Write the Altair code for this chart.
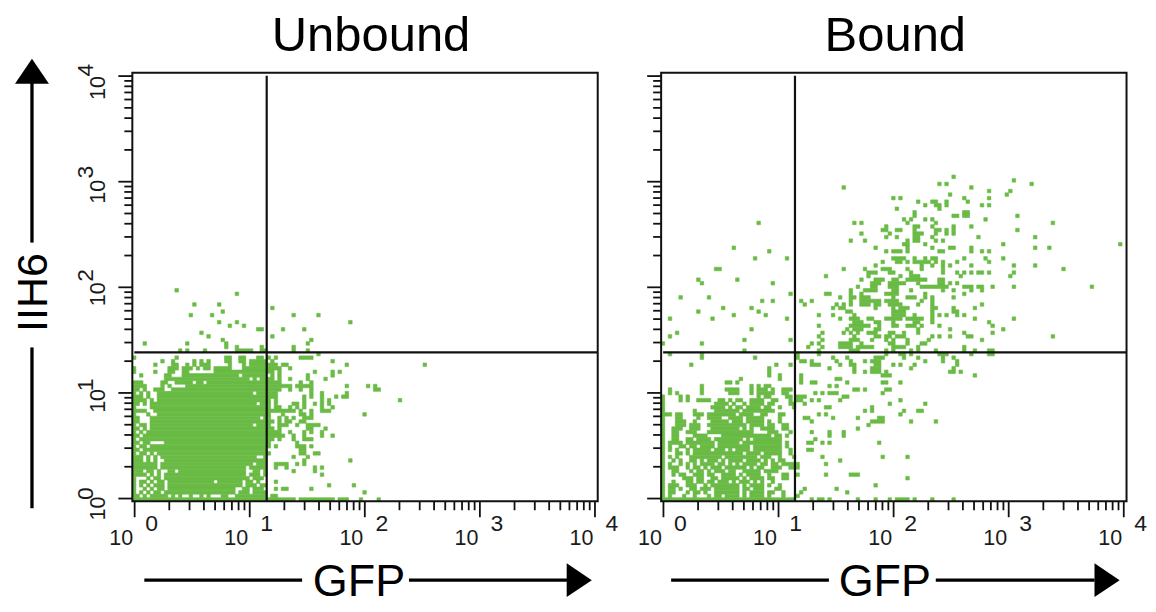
import math
import altair as alt
import pandas as pd

FONT = "Liberation Sans"
GREEN = "#69bb45"
CELL_PX = 3.55
PLOT_W = 466
PLOT_H = 429

# Occupied channels per histogram row (row index = list position).
unbound_rows_low = [
    "0-45 47-56 58-60 64 69", "0-1 3 5-9 11 13 16 19 21 25-26 29-37 39-40", "0 2 4 6-7 9-28 30-32 34-37 65",
    "0 3 5 7-8 10-28 31-32 34-36 40 42-43 50", "0 2 4 6-8 10-30 32-34 36-37 55 62", "0 2-3 5 7-8 10-22 24-30 32-33 35 40",
    "0 4 6-7 9-30 31-32 34-36", "0-3 5 7 9-31 33-35 37 53", "0-2 4-5 7 10-11 13-31 34-35 37 45 51",
    "0-6 8-31 33-37 40 43 51 53", "0-6 8-33 35-37 40-43 46 48", "0-2 4 6 9-37 48 61",
    "0-2 4 6 8-34 37 45 49", "0 2-3 5 7-37 38 47-48 51-52", "0-1 3-37 47-48",
    "0 2-3 5-38 40 46-48 50", "0-1 3-4 9-38 46", "0 2-3 4-39 41 45 48-50",
    "0-1 3-42 45 48 53 56", "0 2 4-41 44 48 50 53", "0-1 3 5-39 41 49-50 54",
]
unbound_rows_mid = [
    "0 2-3 5-33 35-38 41-43 46 49-52", "0-1 5-39 41 43-44 47-48", "0-1 5-35 37-38 41 43 45 48-50",
    "0 4 7-38 42 47-48 50 65", "0-3 6-45 47 50 53-55", "0 5-38 40-41 44 46 48 53 56",
    "0-1 3 5-34 36-38 40 45-46 48 51 53 55", "0-3 5 7-38 40 48 53 55 75", "0-2 4 7-40 48 50 53 57 59-60",
    "0 2 4 7-33 35-40 50 53 60", "0-1 3 6-8 11-41 44 47 50 68-69", "0-3 8 10 15-44 46-50 60 66 68",
    "0-2 8-9 12-16 18-19 21-41 47 50", "9-32 34 36-39 41 44 49 54", "2 9-10 14-29 31-37 39 41 49 56",
    "0 6 10-11 14-15 23-39 41 51 56 58", "0 10-12 14-16 18 20-21 23-27 31-41 44", "6 11-12 15 17 19-21 27 31 33-40 42-43 60 82",
    "8 11 17 19 21 26-27 30-31 33-37 39 56", "0 12 26-27 30-31 35-36 38 40 47-50", "52",
]
unbound_rows_high = [
    "13 15 20 29-33 36-37 45 49", "26 29 36 45", "3 15 26 49", "25 50", "21 39", "19", "35-36 42 48", "27 31",
    "24 29 61", "", "16 22 45 52", "25", "39", "17 24", "", "", "29", "12",
]
bound_rows_low = [
    "0-37 42 44-45 47 55 60 64 66-69 71 76 82", "0 2 6 9 13 15-16 18-21 23 25-28 30 34 38",
    "0 2-3 7 9-10 12 15-21 23 25-28 30-31 34 39 52", "0 2-3 5 8-9 11-13 15-21 23-24 26-28 32-33 40 49",
    "0 2-4 7-9 12 14-21 23 25-28 30 33 60", "0 3 7-8 10-11 13-14 16-18 20 22-24 26 28 31",
    "0 6-8 10-11 14-15 17-21 23 25-28 30-31 34-35 69", "0 3 5-6 9-11 13-14 17-20 22 24-27 30 34-35 38 46 53-55",
    "0 3-4 8 10-11 13 15-17 19-20 23-27 29-32", "0 2-4 7 9-10 12 14-16 18-23 25 27-28 31-33 36-38",
    "0 2 5 7 9 11-14 16-17 19 21 23-26 28-29 31-32 34-38 46", "0 3 5 8-9 11 13-15 17 19-22 24-27 29 31 33-34 50",
    "0 2 4 8-16 18-26 28-30 33 37 45 62 69", "0 4-5 7 9-22 24-27 29-33 36", "0 2 4 7 9-13 15-17 19 21-24 26-33 36 41-42",
    "0 2 5-6 8-9 11-14 16-24 26-33 35", "0 2-5 7-14 16-21 23-33 35 41-42 45 47 61", "0 3-4 7-8 10-13 15-22 24 26-33 43",
    "0 3-4 9-12 17-30 32-33 35 47 51", "0 3-4 7-9 13-25 30-32 36 42 47 51", "0 3-5 8-10 14-21 23 25 28-31 34-35 55",
]
bound_rows_mid = [
    "0 4-6 8-10 13-23 25-28 30-31 34-35 58", "0 4-6 9 14-18 20-22 24-28 30 33 42 59-62 70 77",
    "0 4-5 10 13-16 19-22 24-28 33 40-41 48 55 61-62", "0-2 4-5 9-11 13-20 22-25 28-29 33-34 44 46 67",
    "0 9 15-21 23-31 57 59 68 72-73", "0 14-17 19 21-22 24-27 29-30 33 37 46-47 59",
    "0 15-18 20 23 25-28 30-31 36-37 40 64 74", "0 5 7 10-13 16-17 19 21-22 25-28 31-32 36 38-39 42 44 50 67",
    "0 5 7 27 29-30 35-36 38-40 51-52", "2 4 11 19-21 25 27-31 34-35 43 45 47-49 62",
    "2 11 18-21 25 27-29 31 34-36 54-55 57 63-64", "11 25 27 29-30 47 49", "18-19 21 39 42-43 52 62-63 67",
    "22 33 39 49-50", "30 33 39 62-64 88", "30 54 57 59-61 63 81-82 84", "30 47 54 59-61 70 82",
    "8 32 36 42-44 50 53-54 60-61 65 67 71 83", "39-40 42 49 53 57 59-61 74 79 83",
    "11 26 38 48 52 60-62 68 72 79 82", "2 11 38 44 63 67-68 70 78-80 87 92-93",
]
bound_rows_high = [
    "23 44 53-55 63 65 70 72 77 85 88 92-93", "41 45 50-53 55-59 65-68 72 85", "0 11 42 44 50-53 56 64-65 69 73-74",
    "23 36 45 53-55 59 63 65 69 75 90", "2 44 54 60-61 63-64 66-68 76 78 81 86-87 110", "4 45 51 53 55 58-60 64-65 68 72 85 93",
    "25 52 54-56 60-61 72 81 96", "44 53-58 61 65-66 69-71 73 78 93", "54-56 60-61 65 71-72 76 92",
    "2 14 35 50 53-55 58-59 63-67 69-73 76 88 99", "20 29 44 48 54 65-68 71 76 78 80 83 85", "10 27 52-53 65-68 76 82-83",
    "17 25 48 50-51 60 65 67-69 76-77 82 88", "40 49 51 53 56-58 60-61 64-67 72 76 90", "28 31 39 42 53 56-61 63-66 73 76",
    "5 13 50 53-54 56-58 65 69-71 74 76 82", "36 46-47 53 56 63-66 74 85", "53 57-60 65-66 70 79 82 87 90",
    "55 59-60 64-66 73-80 85-87 89-90 93 99 121", "11 31 59-61 64-68 72 78-79 81 83", "10 21 56 60-62 65-66 69-74 78-79",
    "46 58 67 70-72 84 98", "58-60 64-65 70 79 83 85 87 89-90 92 99", "15-16 51 57 62-64 69 73 79 113",
    "60 73 76 79 81 87 99 105", "62 66-67 69 71-75 77 79 83 92", "26 35 65-68 71 74 76-77 85 91 96", "",
    "30 63 65-67 69 78-79 87 90 92", "20 60 69 76 81-82 87 105 109", "68-69 74 96 129", "53 57 69 71-72 77 79",
    "63 66 71-72 76 89 105", "56 64 71-73 77 80 82", "62-63 66-67 71 77-78 80 82 100", "63 71-72 76 82 87",
    "27 54 56 69 77 110", "68 70 74 76 91", "71 82-83 85-86 100", "71 85-86", "66 78", "74 77-78 80 90 92",
    "72 76-77 80 86", "65 67 85 92", "81 97", "92 98", "51 87", "78 80 104", "99", "82",
]

decades = [0, 1, 2, 3, 4]
minor_factors = [2, 3, 4, 5, 6, 7, 8, 9]
x_channels_per_decade = 32.46
y_channels_per_decade = 29.79
x_channel_zero = 0.65
y_channel_zero = 0.76
y_ten_shift = [10, 8, 7, 10, 12]
y_digit_shift = [-5, -8, -12, -9.5, -6]


def runs_frame(rows):
    out = []
    for row, text in enumerate(rows):
        for part in text.split():
            a, _, b = part.partition("-")
            start, end = int(a), int(b or a)
            out.append(dict(c0=start, c1=end + 1, r0=row, r1=row + 1))
    return pd.DataFrame(out)


def panel(rows, title, title_x, gfp_x, seg, tri_x, gate_x, y_labels):
    xs = alt.Scale(domain=[0, PLOT_W / CELL_PX], nice=False, zero=False)
    ys = alt.Scale(domain=[0, PLOT_H / CELL_PX], nice=False, zero=False)
    xch = lambda d: x_channel_zero + x_channels_per_decade * d
    ych = lambda d: y_channel_zero + y_channels_per_decade * d
    X = lambda f: alt.X(f, scale=xs, axis=None)
    Y = lambda f: alt.Y(f, scale=ys, axis=None)

    cells = alt.Chart(runs_frame(rows)).mark_rect(color=GREEN, stroke=GREEN, strokeWidth=0.6).encode(
        x=X("c0:Q"), x2="c1:Q", y=Y("r0:Q"), y2="r1:Q")

    minor = [d + math.log10(f) for d in decades[:-1] for f in minor_factors]
    xt = pd.DataFrame({"v": [xch(d) for d in decades]})
    xm = pd.DataFrame({"v": [xch(d) for d in minor]})
    yt = pd.DataFrame({"v": [ych(d) for d in decades]})
    ym = pd.DataFrame({"v": [ych(d) for d in minor]})
    h = PLOT_H
    tick = dict(color="#111111", strokeWidth=1.8)
    layers = [
        cells,
        alt.Chart(xt).mark_rule(**tick).encode(x=X("v:Q"), y=alt.value(h), y2=alt.value(h + 16)),
        alt.Chart(xm).mark_rule(**tick).encode(x=X("v:Q"), y=alt.value(h), y2=alt.value(h + 9)),
        alt.Chart(yt).mark_rule(**tick).encode(y=Y("v:Q"), x=alt.value(-14), x2=alt.value(0)),
        alt.Chart(ym).mark_rule(**tick).encode(y=Y("v:Q"), x=alt.value(-8), x2=alt.value(0)),
        # gates
        alt.Chart(pd.DataFrame({"v": [41.97]})).mark_rule(color="#111111", strokeWidth=2.2).encode(
            y=Y("v:Q"), x=alt.value(2), x2=alt.value(PLOT_W)),
        alt.Chart(pd.DataFrame({"v": [gate_x]})).mark_rule(color="#111111", strokeWidth=2.2).encode(
            x=X("v:Q"), y=alt.value(3), y2=alt.value(h)),
        # frame
        alt.Chart(pd.DataFrame({"a": [0]})).mark_rect(fillOpacity=0, stroke="#111111", strokeWidth=2).encode(
            x=alt.value(0), x2=alt.value(PLOT_W), y=alt.value(0), y2=alt.value(h)),
    ]
    # tick labels
    tens = pd.DataFrame({"v": [xch(d) - 13.5 / CELL_PX for d in decades], "t": ["10"] * 5})
    digits = pd.DataFrame({"v": [xch(d) + 17 / CELL_PX for d in decades], "t": [str(d) for d in decades]})
    lab = dict(font=FONT, color="#1a1a1a", align="center", baseline="middle")
    layers += [
        alt.Chart(tens).mark_text(fontSize=21.5, **lab).encode(x=X("v:Q"), y=alt.value(467), text="t:N"),
        alt.Chart(digits).mark_text(fontSize=23, **lab).encode(x=X("v:Q"), y=alt.value(452), text="t:N"),
    ]
    if y_labels:
        ytens = pd.DataFrame({"v": [ych(d) - s / CELL_PX for d, s in zip(decades, y_ten_shift)], "t": ["10"] * 5})
        ydig = pd.DataFrame({"v": [ych(d) - s / CELL_PX for d, s in zip(decades, y_digit_shift)],
                             "t": [str(d) for d in decades]})
        layers += [
            alt.Chart(ytens).mark_text(angle=270, fontSize=21.5, **lab).encode(y=Y("v:Q"), x=alt.value(-33), text="t:N"),
            alt.Chart(ydig).mark_text(angle=270, fontSize=23, **lab).encode(y=Y("v:Q"), x=alt.value(-46), text="t:N"),
            alt.Chart(pd.DataFrame({"a": [0]})).mark_text(
                text="IIH6", font=FONT, fontSize=43, color="black", angle=270, align="center", baseline="middle"
            ).encode(x=alt.value(-98), y=alt.value(220)),
            alt.Chart(pd.DataFrame({"a": [0]})).mark_rule(color="black", strokeWidth=3.3).encode(
                x=alt.value(-100.5), y=alt.value(275), y2=alt.value(436)),
            alt.Chart(pd.DataFrame({"a": [0]})).mark_rule(color="black", strokeWidth=3.3).encode(
                x=alt.value(-100.5), y=alt.value(8), y2=alt.value(170)),
            alt.Chart(pd.DataFrame({"a": [0]})).mark_point(
                shape="M-1,0.74L0,-0.74L1,0.74Z", size=1156, filled=True, color="black", opacity=1
            ).encode(x=alt.value(-100.5), y=alt.value(-1.5)),
        ]
    layers += [
        alt.Chart(pd.DataFrame({"a": [0]})).mark_text(
            text=title, font=FONT, fontSize=49, color="black", align="center", baseline="alphabetic"
        ).encode(x=alt.value(title_x), y=alt.value(-22)),
        alt.Chart(pd.DataFrame({"a": [0]})).mark_text(
            text="GFP", font=FONT, fontSize=45, color="black", align="center", baseline="middle"
        ).encode(x=alt.value(gfp_x), y=alt.value(510)),
    ]
    for a, b in seg:
        layers.append(alt.Chart(pd.DataFrame({"a": [0]})).mark_rule(color="black", strokeWidth=3.3).encode(
            x=alt.value(a), x2=alt.value(b), y=alt.value(508)))
    layers.append(alt.Chart(pd.DataFrame({"a": [0]})).mark_point(
        shape="M-0.74,-1L0.74,0L-0.74,1Z", size=1156, filled=True, color="black", opacity=1
    ).encode(x=alt.value(tri_x), y=alt.value(508)))
    return alt.layer(*layers).properties(width=PLOT_W, height=PLOT_H)


left = panel(unbound_rows_low + unbound_rows_mid + unbound_rows_high, "Unbound", 239, 227,
             [(12, 170), (277, 437)], 447.5, 37.9, True)
right = panel(bound_rows_low + bound_rows_mid + bound_rows_high, "Bound", 234.5, 224,
              [(10, 168), (275, 434)], 446.5, 37.75, False)

chart = alt.hconcat(left, right, spacing=18.5).properties(
    padding={"left": 5.5, "top": 3.5, "right": 0, "bottom": 0}
).configure_view(stroke=None)

chart.save("out.html", embed_options={"renderer": "svg", "actions": False})
